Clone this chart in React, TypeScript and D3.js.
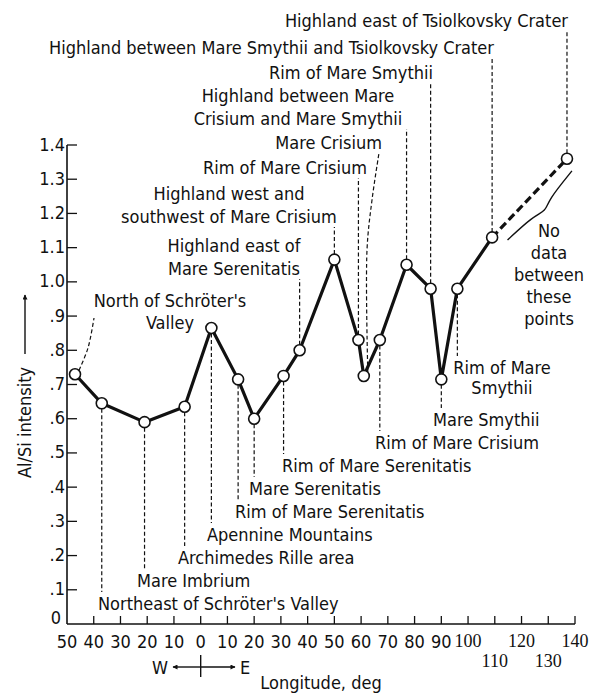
import React, { useEffect, useRef } from 'react'
import * as d3 from 'd3'

// longitude in degrees (west is negative), Al/Si intensity ratio
const longitudes = [-47, -37, -21, -6, 4, 14, 20, 31, 37, 50, 59, 61, 67, 77, 86, 90, 96, 109, 137]
const intensities = [0.73, 0.645, 0.59, 0.635, 0.865, 0.715, 0.6, 0.725, 0.8, 1.065, 0.83, 0.725, 0.83, 1.05, 0.98, 0.715, 0.98, 1.13, 1.36]
const siteNames = [
  "North of Schröter's\nValley",
  "Northeast of Schröter's Valley",
  'Mare Imbrium',
  'Archimedes Rille area',
  'Apennine Mountains',
  'Rim of Mare Serenitatis',
  'Mare Serenitatis',
  'Rim of Mare Serenitatis',
  'Highland east of\nMare Serenitatis',
  'Highland west and\nsouthwest of Mare Crisium',
  'Rim of Mare Crisium',
  'Mare Crisium',
  'Rim of Mare Crisium',
  'Highland between Mare\nCrisium and Mare Smythii',
  'Rim of Mare Smythii',
  'Mare Smythii',
  'Rim of Mare\nSmythii',
  'Highland between Mare Smythii and Tsiolkovsky Crater',
  'Highland east of Tsiolkovsky Crater',
]
const xTickValues = d3.range(-50, 141, 10)
const yTickValues = d3.range(0, 15).map(i => i / 10)
const yTickLabels = ['0', '.1', '.2', '.3', '.4', '.5', '.6', '.7', '.8', '.9', '1.0', '1.1', '1.2', '1.3', '1.4']
const gapNote = ['No', 'data', 'between', 'these', 'points']

// label placement (pixels): anchor x, first line centre y; lx/ly = leader end when it is not under the text
const labelLayout: { x: number; y: number; anchor: string; lh?: number; lx?: number; ly?: number; bend?: [number, number][] }[] = [
  { x: 170, y: 300, anchor: 'middle', lh: 22, lx: 94, ly: 318, bend: [[88, 348]] },
  { x: 98, y: 603, anchor: 'start' },
  { x: 137, y: 580, anchor: 'start' },
  { x: 178, y: 557, anchor: 'start' },
  { x: 207, y: 534, anchor: 'start' },
  { x: 235, y: 511, anchor: 'start' },
  { x: 249, y: 488, anchor: 'start' },
  { x: 282, y: 465, anchor: 'start' },
  { x: 234, y: 245, anchor: 'middle' },
  { x: 229, y: 193, anchor: 'middle' },
  { x: 367, y: 167, anchor: 'end' },
  { x: 382, y: 142, anchor: 'end', lx: 379, bend: [[367, 250], [372, 200]] },
  { x: 375, y: 442, anchor: 'start' },
  { x: 298, y: 95, anchor: 'middle' },
  { x: 433, y: 72, anchor: 'end' },
  { x: 433, y: 419, anchor: 'start' },
  { x: 502, y: 367, anchor: 'middle', lh: 20 },
  { x: 494, y: 47, anchor: 'end' },
  { x: 568, y: 20, anchor: 'end' },
]

const W = 589
const H = 694
const FONT = "'DejaVu Sans Condensed', 'Liberation Sans Narrow', 'Arial Narrow', sans-serif"
const INK = '#111'

const App: React.FC = () => {
  const svgRef = useRef<SVGSVGElement>(null)

  useEffect(() => {
    const svg = d3.select(svgRef.current)
    svg.selectAll('*').remove()

    const x = d3.scaleLinear().domain([-50, 140]).range([67, 575])
    const y = d3.scaleLinear().domain([0, 1.4]).range([624, 145])
    const r = 5.5

    const pts = longitudes.map((lon, i) => ({ lon, v: intensities[i], name: siteNames[i] }))

    svg.append('defs').append('marker')
      .attr('id', 'arr')
      .attr('viewBox', '0 0 10 10')
      .attr('refX', 9).attr('refY', 5)
      .attr('markerWidth', 7).attr('markerHeight', 5)
      .attr('markerUnits', 'userSpaceOnUse')
      .attr('orient', 'auto-start-reverse')
      .append('path')
      .attr('d', 'M0,0L10,5L0,10z')
      .attr('fill', INK)

    // axes
    const ax = svg.append('g').attr('stroke', INK)
    ax.append('line').attr('x1', x(-50)).attr('x2', x(-50)).attr('y1', y(0)).attr('y2', y(1.4)).attr('stroke-width', 1.6)
    ax.append('line').attr('x1', x(-50)).attr('x2', x(140)).attr('y1', y(0)).attr('y2', y(0)).attr('stroke-width', 1.6)
    ax.selectAll('.yt').data(yTickValues.slice(1)).enter().append('line')
      .attr('x1', x(-50)).attr('x2', x(-50) + 10)
      .attr('y1', d => y(d)).attr('y2', d => y(d)).attr('stroke-width', 1.3)
    ax.selectAll('.xt').data(xTickValues.slice(1)).enter().append('line')
      .attr('x1', d => x(d)).attr('x2', d => x(d))
      .attr('y1', y(0)).attr('y2', y(0) - 8).attr('stroke-width', 1.3)

    const txt = svg.append('g').attr('font-family', FONT).attr('fill', INK).attr('font-size', 18)

    txt.selectAll('.yl').data(yTickValues).enter().append('text')
      .attr('x', d => (d === 0 ? x(-50) - 6 : x(-50) - 2))
      .attr('y', d => (d === 0 ? y(d) - 7 : y(d) - 1))
      .attr('text-anchor', 'end').attr('dominant-baseline', 'central')
      .text((d, i) => yTickLabels[i])

    txt.selectAll('.xl').data(xTickValues).enter().append('text')
      .attr('x', d => x(d))
      .attr('y', d => (d === 110 || d === 130 ? 661 : 641))
      .attr('text-anchor', 'middle').attr('dominant-baseline', 'central')
      .attr('font-family', d => (d >= 100 ? "'Liberation Serif', serif" : FONT))
      .text(d => String(Math.abs(d)))

    // axis titles
    txt.append('text')
      .attr('transform', 'translate(31,478) rotate(-90)')
      .attr('text-anchor', 'start')
      .text('Al/Si intensity')
    svg.append('line')
      .attr('x1', 25).attr('x2', 25).attr('y1', 354).attr('y2', 295)
      .attr('stroke', INK).attr('stroke-width', 1.4).attr('marker-end', 'url(#arr)')

    txt.append('text').attr('x', 321).attr('y', 682)
      .attr('text-anchor', 'middle').attr('dominant-baseline', 'central')
      .text('Longitude, deg')
    txt.append('text').attr('x', 168).attr('y', 667)
      .attr('text-anchor', 'end').attr('dominant-baseline', 'central').text('W')
    txt.append('text').attr('x', 240).attr('y', 667)
      .attr('text-anchor', 'start').attr('dominant-baseline', 'central').text('E')
    svg.append('line').attr('x1', x(0)).attr('x2', 173).attr('y1', 667).attr('y2', 667)
      .attr('stroke', INK).attr('stroke-width', 1.4).attr('marker-end', 'url(#arr)')
    svg.append('line').attr('x1', x(0)).attr('x2', 235).attr('y1', 667).attr('y2', 667)
      .attr('stroke', INK).attr('stroke-width', 1.4).attr('marker-end', 'url(#arr)')
    svg.append('line').attr('x1', x(0)).attr('x2', x(0)).attr('y1', 655).attr('y2', 677)
      .attr('stroke', INK).attr('stroke-width', 1.4)

    // leaders
    const leader = d3.line<[number, number]>().curve(d3.curveCatmullRom)
    const lg = svg.append('g').attr('fill', 'none').attr('stroke', INK)
      .attr('stroke-width', 1.2).attr('stroke-dasharray', '4,2.5')
    pts.forEach((p, i) => {
      const L = labelLayout[i]
      const px = x(p.lon)
      const py = y(p.v)
      const n = p.name.split('\n').length
      const lh = L.lh ?? 23
      const lx = L.lx ?? px
      let path: [number, number][]
      if (L.y < py) {
        const top = L.ly ?? L.y + (n - 1) * lh + 11
        const start: [number, number] = L.lx !== undefined && Math.abs(L.lx - px) > 10 ? [px + 4, py - 4] : [px, py - r]
        path = [start, ...(L.bend ?? []), [lx, top]]
      } else {
        path = [[px, py + r], [lx, L.y - 11]]
      }
      lg.append('path').attr('d', leader(path))
    })

    // data line
    const line = d3.line<typeof pts[0]>().x(d => x(d.lon)).y(d => y(d.v))
    svg.append('path').datum(pts.slice(0, 18))
      .attr('fill', 'none').attr('stroke', INK).attr('stroke-width', 3.2)
      .attr('stroke-linejoin', 'round').attr('d', line)
    svg.append('path').datum(pts.slice(17))
      .attr('fill', 'none').attr('stroke', INK).attr('stroke-width', 3.2)
      .attr('stroke-dasharray', '8,4').attr('d', line)

    // brace under the no-data segment
    const a = pts[17], b = pts[18]
    const ax0 = x(a.lon), ay0 = y(a.v), bx = x(b.lon), by = y(b.v)
    const len = Math.hypot(bx - ax0, by - ay0)
    const ux = (bx - ax0) / len, uy = (by - ay0) / len
    const nx = -uy, ny = ux
    const along = [[0.08, 13], [0.4, 15], [0.52, 21], [0.6, 15], [0.95, 12]]
    const bracePts = along.map(([t, o]) => [ax0 + ux * len * t + nx * o, ay0 + uy * len * t + ny * o] as [number, number])
    svg.append('path').attr('d', d3.line().curve(d3.curveBasis)(bracePts))
      .attr('fill', 'none').attr('stroke', INK).attr('stroke-width', 1.4)

    txt.selectAll('.gn').data(gapNote).enter().append('text')
      .attr('x', 549).attr('y', (d, i) => 230 + i * 22)
      .attr('text-anchor', 'middle').attr('dominant-baseline', 'central')
      .text(d => d)

    // points
    svg.selectAll('.dot').data(pts).enter().append('circle')
      .attr('cx', d => x(d.lon)).attr('cy', d => y(d.v)).attr('r', r)
      .attr('fill', '#fff').attr('stroke', INK).attr('stroke-width', 1.6)

    // site labels
    pts.forEach((p, i) => {
      const L = labelLayout[i]
      const lh = L.lh ?? 23
      p.name.split('\n').forEach((s, k) => {
        txt.append('text').attr('x', L.x).attr('y', L.y + k * lh)
          .attr('text-anchor', L.anchor).attr('dominant-baseline', 'central')
          .text(s)
      })
    })
  }, [])

  return (
    <svg ref={svgRef} width={W} height={H}
      style={{ position: 'absolute', left: 0, top: 0, background: '#fff' }} />
  )
}

export default App
